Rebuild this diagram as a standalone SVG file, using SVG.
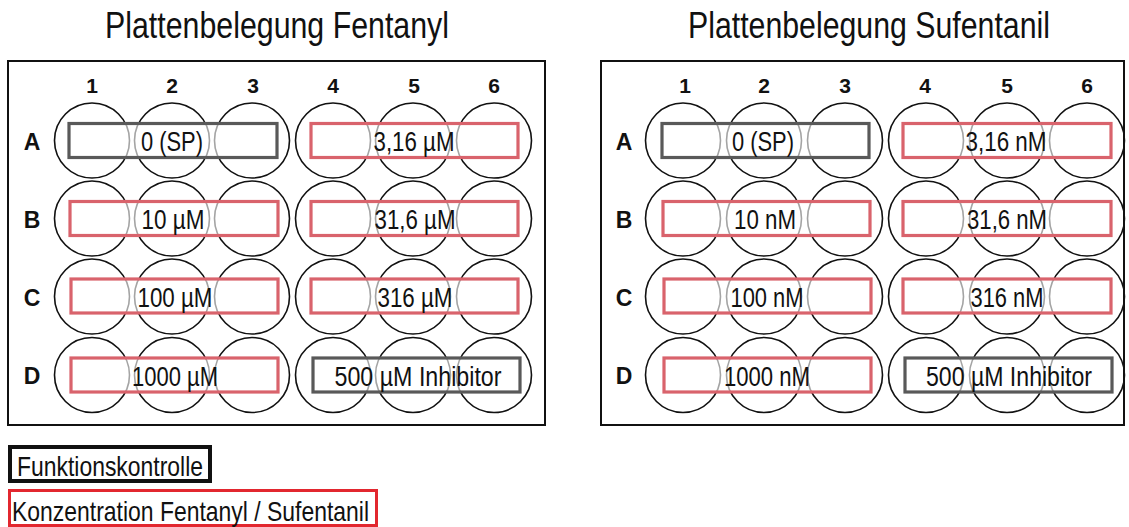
<svg xmlns="http://www.w3.org/2000/svg" width="1129" height="527" viewBox="0 0 1129 527">
  <style>
    .title { font-family: "Liberation Sans Narrow", "Liberation Sans", Arial, sans-serif; font-size: 37px; fill: #111; text-anchor: middle; }
    .col { font-family: "Liberation Sans", Arial, sans-serif; font-size: 21px; font-weight: bold; fill: #111; text-anchor: middle; }
    .row { font-family: "Liberation Sans", Arial, sans-serif; font-size: 23px; font-weight: bold; fill: #111; text-anchor: middle; }
    .lbl { font-family: "Liberation Sans Narrow", "Liberation Sans", Arial, sans-serif; font-size: 27px; fill: #111; text-anchor: middle; }
    .leg { font-family: "Liberation Sans Narrow", "Liberation Sans", Arial, sans-serif; font-size: 28px; fill: #111; }
    .plate { fill: #fff; stroke: #111; stroke-width: 2; }
    .well { fill: none; stroke: #111; stroke-width: 1.6; }
    .ctrl { fill: #fff; fill-opacity: 0.62; stroke: #595959; stroke-width: 3.2; }
    .conc { fill: #fff; fill-opacity: 0.62; stroke: #d9636c; stroke-width: 3.2; }
  </style>
  <rect width="1129" height="527" fill="#fff"/>

  <!-- Plate 1: Fentanyl -->
  <g id="plate-fentanyl">
    <text class="title" x="277" y="38" textLength="344" lengthAdjust="spacingAndGlyphs">Plattenbelegung Fentanyl</text>
    <rect class="plate" x="8" y="61" width="537" height="364"/>
    <g id="fentanyl-columns">
      <text class="col" x="92" y="93">1</text>
      <text class="col" x="172" y="93">2</text>
      <text class="col" x="253" y="93">3</text>
      <text class="col" x="333" y="93">4</text>
      <text class="col" x="414" y="93">5</text>
      <text class="col" x="494" y="93">6</text>
    </g>
    <g id="fentanyl-rows">
      <text class="row" x="32" y="149.5">A</text>
      <text class="row" x="32" y="227.5">B</text>
      <text class="row" x="32" y="305.5">C</text>
      <text class="row" x="32" y="384">D</text>
    </g>
    <g id="fentanyl-wells">
      <circle class="well" cx="92" cy="140.5" r="37.5"/><circle class="well" cx="172" cy="140.5" r="37.5"/><circle class="well" cx="252" cy="140.5" r="37.5"/>
      <circle class="well" cx="333" cy="140.5" r="37.5"/><circle class="well" cx="413" cy="140.5" r="37.5"/><circle class="well" cx="494" cy="140.5" r="37.5"/>
      <circle class="well" cx="92" cy="218.5" r="37.5"/><circle class="well" cx="172" cy="218.5" r="37.5"/><circle class="well" cx="252" cy="218.5" r="37.5"/>
      <circle class="well" cx="333" cy="218.5" r="37.5"/><circle class="well" cx="413" cy="218.5" r="37.5"/><circle class="well" cx="494" cy="218.5" r="37.5"/>
      <circle class="well" cx="92" cy="296.5" r="37.5"/><circle class="well" cx="172" cy="296.5" r="37.5"/><circle class="well" cx="252" cy="296.5" r="37.5"/>
      <circle class="well" cx="333" cy="296.5" r="37.5"/><circle class="well" cx="413" cy="296.5" r="37.5"/><circle class="well" cx="494" cy="296.5" r="37.5"/>
      <circle class="well" cx="92" cy="375" r="37.5"/><circle class="well" cx="172" cy="375" r="37.5"/><circle class="well" cx="252" cy="375" r="37.5"/>
      <circle class="well" cx="333" cy="375" r="37.5"/><circle class="well" cx="413" cy="375" r="37.5"/><circle class="well" cx="494" cy="375" r="37.5"/>
    </g>
    <g id="fentanyl-A1-3">
      <rect class="ctrl" x="69" y="123.5" width="208" height="34"/>
      <text class="lbl" x="172" y="151" textLength="62" lengthAdjust="spacingAndGlyphs">0 (SP)</text>
    </g>
    <g id="fentanyl-A4-6">
      <rect class="conc" x="311" y="123.5" width="207" height="34"/>
      <text class="lbl" x="414" y="151" textLength="81" lengthAdjust="spacingAndGlyphs">3,16 µM</text>
    </g>
    <g id="fentanyl-B1-3">
      <rect class="conc" x="70" y="201.5" width="208" height="34"/>
      <text class="lbl" x="173" y="229" textLength="63" lengthAdjust="spacingAndGlyphs">10 µM</text>
    </g>
    <g id="fentanyl-B4-6">
      <rect class="conc" x="311" y="201.5" width="207" height="34"/>
      <text class="lbl" x="415" y="229" textLength="81" lengthAdjust="spacingAndGlyphs">31,6 µM</text>
    </g>
    <g id="fentanyl-C1-3">
      <rect class="conc" x="71" y="279" width="207" height="34"/>
      <text class="lbl" x="175" y="306.5" textLength="75" lengthAdjust="spacingAndGlyphs">100 µM</text>
    </g>
    <g id="fentanyl-C4-6">
      <rect class="conc" x="311" y="279" width="207" height="34"/>
      <text class="lbl" x="415" y="306.5" textLength="75" lengthAdjust="spacingAndGlyphs">316 µM</text>
    </g>
    <g id="fentanyl-D1-3">
      <rect class="conc" x="71" y="358" width="207" height="34"/>
      <text class="lbl" x="175" y="385.5" textLength="86" lengthAdjust="spacingAndGlyphs">1000 µM</text>
    </g>
    <g id="fentanyl-D4-6">
      <rect class="ctrl" x="313" y="358" width="207" height="34"/>
      <text class="lbl" x="418" y="385.5" textLength="167" lengthAdjust="spacingAndGlyphs">500 µM Inhibitor</text>
    </g>
  </g>

  <!-- Plate 2: Sufentanil -->
  <g id="plate-sufentanil">
    <text class="title" x="869" y="38" textLength="362" lengthAdjust="spacingAndGlyphs">Plattenbelegung Sufentanil</text>
    <rect class="plate" x="601" y="61" width="523" height="364"/>
    <g id="sufentanil-columns">
      <text class="col" x="685" y="93">1</text>
      <text class="col" x="764" y="93">2</text>
      <text class="col" x="845" y="93">3</text>
      <text class="col" x="925" y="93">4</text>
      <text class="col" x="1007" y="93">5</text>
      <text class="col" x="1087" y="93">6</text>
    </g>
    <g id="sufentanil-rows">
      <text class="row" x="624" y="149.5">A</text>
      <text class="row" x="624" y="227.5">B</text>
      <text class="row" x="624" y="305.5">C</text>
      <text class="row" x="624" y="384">D</text>
    </g>
    <g id="sufentanil-wells">
      <circle class="well" cx="683" cy="140.5" r="37.5"/><circle class="well" cx="764" cy="140.5" r="37.5"/><circle class="well" cx="845" cy="140.5" r="37.5"/>
      <circle class="well" cx="926" cy="140.5" r="37.5"/><circle class="well" cx="1007" cy="140.5" r="37.5"/><circle class="well" cx="1087" cy="140.5" r="37.5"/>
      <circle class="well" cx="683" cy="218.5" r="37.5"/><circle class="well" cx="764" cy="218.5" r="37.5"/><circle class="well" cx="845" cy="218.5" r="37.5"/>
      <circle class="well" cx="926" cy="218.5" r="37.5"/><circle class="well" cx="1007" cy="218.5" r="37.5"/><circle class="well" cx="1087" cy="218.5" r="37.5"/>
      <circle class="well" cx="683" cy="296.5" r="37.5"/><circle class="well" cx="764" cy="296.5" r="37.5"/><circle class="well" cx="845" cy="296.5" r="37.5"/>
      <circle class="well" cx="926" cy="296.5" r="37.5"/><circle class="well" cx="1007" cy="296.5" r="37.5"/><circle class="well" cx="1087" cy="296.5" r="37.5"/>
      <circle class="well" cx="683" cy="375" r="37.5"/><circle class="well" cx="764" cy="375" r="37.5"/><circle class="well" cx="845" cy="375" r="37.5"/>
      <circle class="well" cx="926" cy="375" r="37.5"/><circle class="well" cx="1007" cy="375" r="37.5"/><circle class="well" cx="1087" cy="375" r="37.5"/>
    </g>
    <g id="sufentanil-A1-3">
      <rect class="ctrl" x="662" y="123.5" width="207" height="34"/>
      <text class="lbl" x="763" y="151" textLength="62" lengthAdjust="spacingAndGlyphs">0 (SP)</text>
    </g>
    <g id="sufentanil-A4-6">
      <rect class="conc" x="903" y="123.5" width="208" height="34"/>
      <text class="lbl" x="1006" y="151" textLength="81" lengthAdjust="spacingAndGlyphs">3,16 nM</text>
    </g>
    <g id="sufentanil-B1-3">
      <rect class="conc" x="663" y="201.5" width="207" height="34"/>
      <text class="lbl" x="765" y="229" textLength="62" lengthAdjust="spacingAndGlyphs">10 nM</text>
    </g>
    <g id="sufentanil-B4-6">
      <rect class="conc" x="903" y="201.5" width="208" height="34"/>
      <text class="lbl" x="1007" y="229" textLength="80" lengthAdjust="spacingAndGlyphs">31,6 nM</text>
    </g>
    <g id="sufentanil-C1-3">
      <rect class="conc" x="664" y="279" width="207" height="34"/>
      <text class="lbl" x="767" y="306.5" textLength="73" lengthAdjust="spacingAndGlyphs">100 nM</text>
    </g>
    <g id="sufentanil-C4-6">
      <rect class="conc" x="903" y="279" width="208" height="34"/>
      <text class="lbl" x="1007" y="306.5" textLength="73" lengthAdjust="spacingAndGlyphs">316 nM</text>
    </g>
    <g id="sufentanil-D1-3">
      <rect class="conc" x="664" y="358" width="207" height="34"/>
      <text class="lbl" x="767" y="385.5" textLength="86" lengthAdjust="spacingAndGlyphs">1000 nM</text>
    </g>
    <g id="sufentanil-D4-6">
      <rect class="ctrl" x="905" y="358" width="207" height="34"/>
      <text class="lbl" x="1009" y="385.5" textLength="166" lengthAdjust="spacingAndGlyphs">500 µM Inhibitor</text>
    </g>
  </g>

  <!-- Legend -->
  <g id="legend-control">
    <rect x="10" y="447" width="200" height="34" fill="#fff" stroke="#111" stroke-width="4"/>
    <text class="leg" x="17" y="476" textLength="186" lengthAdjust="spacingAndGlyphs">Funktionskontrolle</text>
  </g>
  <g id="legend-concentration">
    <rect x="9.5" y="490.5" width="367" height="35" fill="#fff" stroke="#e2272f" stroke-width="3"/>
    <text class="leg" x="12" y="521" textLength="357" lengthAdjust="spacingAndGlyphs">Konzentration Fentanyl / Sufentanil</text>
  </g>
</svg>
